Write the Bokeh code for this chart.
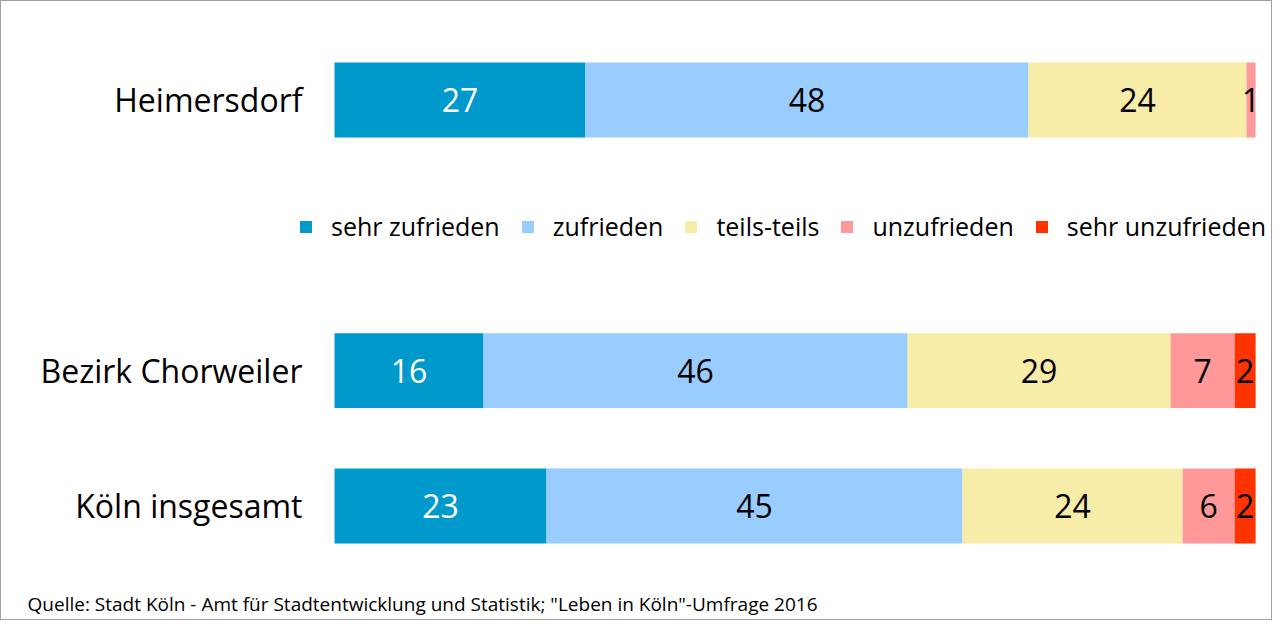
from bokeh.plotting import figure
from bokeh.models import ColumnDataSource, Range1d, Label
from bokeh.embed import file_html
from bokeh.resources import INLINE
from bokeh.core.properties import value

# ---- data ----
regions = ["Heimersdorf", "Bezirk Chorweiler", "Köln insgesamt"]
region_pos = [3, 1, 0]
categories = ["sehr zufrieden", "zufrieden", "teils-teils", "unzufrieden", "sehr unzufrieden"]
sehr_zufrieden = [27.25, 16.18, 23.02]
zufrieden = [48.10, 46.04, 45.17]
teils_teils = [23.67, 28.56, 23.89]
unzufrieden = [0.98, 6.95, 5.65]
sehr_unzufrieden = [0.0, 2.28, 2.28]
colors = ["#0099CC", "#99CCFF", "#F7ECA8", "#FF9999", "#FF3300"]
label_colors = ["#FFFFFF", "#000000", "#000000", "#000000", "#000000"]
source_text = 'Quelle: Stadt Köln - Amt für Stadtentwicklung und Statistik; "Leben in Köln"-Umfrage 2016'

FONT = "Open Sans"
keys = ["sz", "z", "tt", "uz", "suz"]
series = [sehr_zufrieden, zufrieden, teils_teils, unzufrieden, sehr_unzufrieden]

src = ColumnDataSource(dict(y=region_pos, **{k: s for k, s in zip(keys, series)}))
cat_src = ColumnDataSource(dict(x=[0] * len(regions), y=region_pos, text=regions))

# value label positions computed from the data
lx, ly, lt, lc = [], [], [], []
for i, pos in enumerate(region_pos):
    start = 0.0
    for j, s in enumerate(series):
        v = s[i]
        if v > 0:
            lx.append(start + v / 2.0)
            ly.append(pos)
            lt.append(str(int(round(v))))
            lc.append(label_colors[j])
        start += v
lab_src = ColumnDataSource(dict(x=lx, y=ly, text=lt, color=lc))

W, H = 1272, 620
p = figure(width=W, height=H, output_backend="svg", toolbar_location=None,
           x_range=Range1d(-36.156, 101.954), y_range=Range1d(-0.8535, 3.7278),
           min_border=0)
p.styles = {"border": "1px solid #A0A0A0"}
p.outline_line_color = None
p.xgrid.visible = False
p.ygrid.visible = False
p.xaxis.visible = False
p.yaxis.visible = False

p.hbar_stack(keys, y="y", height=0.553, color=colors, source=src,
             legend_label=categories, line_color=None)

p.text(x="x", y="y", text="text", text_color="color", source=lab_src,
       text_align="center", text_baseline="middle",
       text_font=value(FONT), text_font_size="32px")

# category names, right-aligned just left of the bars
p.text(x="x", y="y", text="text", source=cat_src, x_offset=-32,
       text_align="right", text_baseline="middle", text_color="#000000",
       text_font=value(FONT), text_font_size="32px")

lg = p.legend[0]
lg.orientation = "horizontal"
lg.location = (297, 378)
lg.glyph_width = 15
lg.glyph_height = 15
lg.label_standoff = 18
lg.spacing = 20
lg.padding = 0
lg.margin = 0
lg.border_line_color = None
lg.background_fill_alpha = 0
lg.label_text_font = FONT
lg.label_text_font_size = "25px"
lg.label_text_color = "#000000"

p.add_layout(Label(x=-33.33, y=-0.725, text=source_text, text_font=FONT,
                   text_font_size="19px", text_baseline="middle", text_color="#000000"))

open("out.html", "w").write(file_html(p, INLINE))
